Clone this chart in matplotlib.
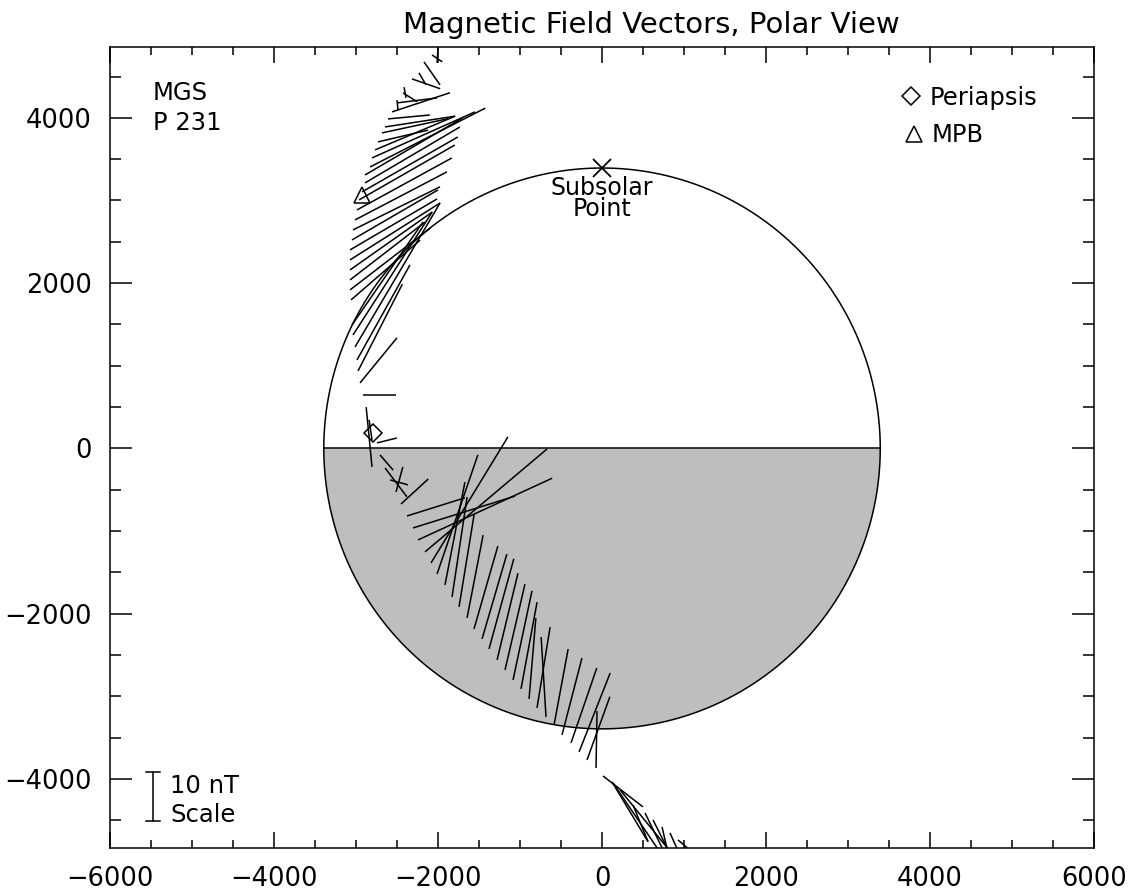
import numpy as np
import matplotlib
matplotlib.use('Agg')
import matplotlib.pyplot as plt
from matplotlib.patches import Wedge
from matplotlib.ticker import MultipleLocator

# ---------------- data ----------------
R_MARS = 3393          # km
KM_PER_NT = 59.3       # vector scale: 10 nT bar length

# spacecraft positions (km) and field components (nT)
vec_x = [-2073, -2012, -2171, -2317, -2232, -2390, -2427, -2488, -2500, -2561,
         -2610, -2646, -2683, -2732, -2768, -2805, -2829,
         -2890, -2890, -2927, -2963, -2988, -3012, -3037, -3049, -3073,
         -3073, -3073, -3073, -3073, -3061,
         -3049, -3037, -3012, -2988, -2975, -2951, -2915,
         -2805, -2744, -2805, -2707, -2646, -2585, -2512, -2451, -2378,
         -2305, -2244, -2159, -2085, -2012, -1915, -1829,
         -1744, -1646, -1561, -1463, -1378, -1280, -1183, -1085, -988,
         -890, -793, -683, -585, -488, -378, -280, -183, -73,
         12, 122, 134, 220, 378, 524, 622, 732, 829, 927]
vec_y = [4761, 4665, 4677, 4471, 4544, 4241, 4302, 4096, 4181, 4072,
         3987, 3890, 3818, 3709, 3612, 3515, 3406,
         3309, 3213, 3104, 3007, 2886, 2765, 2644, 2523, 2402,
         2281, 2160, 2039, 1918, 1797,
         1494, 1373, 1228, 1071, 938, 793, 647,
         103, 67, -224, -79, -236, -381, -526, -672, -817,
         -962, -1107, -1252, -1385, -1519, -1652, -1797,
         -1918, -2051, -2184, -2305, -2426, -2559, -2680, -2801, -2910,
         -3031, -3140, -3249, -3346, -3467, -3563, -3672, -3769, -3866,
         -3963, -4035, -4047, -4132, -4314, -4410, -4495, -4580, -4652, -4737]
vec_bx = [2.1, 0.2, 3.3, 5.8, 1.4, -0.4, 2.9, -0.2, 8.2, 11.9,
          8.6, 14.4, 13.6, 10.3, 16.5, 21.2, 23.7,
          20.0, 19.5, 19.7, 19.7, 19.5, 18.9, 17.9, 17.7, 17.9,
          18.5, 16.9, 15.4, 16.5, 14.2,
          14.6, 16.3, 17.5, 10.9, 9.1, 7.6, 6.8,
          -0.6, 4.1, -1.2, 2.7, 4.5, 3.7, 1.4, 5.6, 11.9,
          21.0, 27.6, 25.1, 15.8, 8.4, 4.1, 3.1,
          3.1, 3.3, 4.9, 5.1, 5.1, 4.3, 4.1, 3.9, 3.3,
          1.4, 2.7, -1.0, 2.9, 4.1, 5.3, 6.4, 4.7, 0.2,
          8.2, 7.4, 9.1, 9.7, 3.1, 3.5, 2.9, 1.0, 1.4, 1.9]
vec_by = [-1.4, 3.1, -4.7, -2.0, -2.4, 2.2, -1.8, 2.0, 1.0, 3.9,
          0.8, 2.2, 2.9, 2.4, 6.9, 9.4, 12.0,
          11.6, 11.4, 11.2, 11.2, 10.6, 9.8, 8.8, 10.2, 10.4,
          11.6, 11.8, 11.8, 12.6, 12.2,
          21.0, 25.1, 29.4, 19.4, 17.7, 9.2, 0.0,
          4.1, 1.0, 12.2, -3.1, -5.9, -1.0, 5.1, 5.1, 3.7,
          6.5, 12.6, 21.0, 25.7, 24.3, 21.0, 20.4,
          18.8, 16.9, 16.9, 17.3, 18.4, 17.7, 17.5, 18.2, 17.7,
          16.5, 16.5, 16.3, 15.5, 15.7, 15.3, 16.1, 12.9, 11.6,
          -6.3, -12.2, -13.3, -11.8, -7.5, -7.1, -5.7, -4.3, -3.1, -1.6]

periapsis = (-2793, 188)
mpb = (-2927, 3067)
subsolar = (0, R_MARS)

xticks = [-6000, -4000, -2000, 0, 2000, 4000, 6000]
yticks = [-4000, -2000, 0, 2000, 4000]
xlim = (-6000, 6000)
ylim = (-4834, 4858)

# ---------------- figure ----------------
plt.rcParams['font.family'] = ['DejaVu Sans']
FS = 17.5

fig = plt.figure(figsize=(11.33, 8.94), dpi=100)
ax = fig.add_axes([0.0971, 0.0515, 0.8685, 0.896])
ax.set_xlim(*xlim)
ax.set_ylim(*ylim)

# planet: night side shaded
ax.add_patch(Wedge((0, 0), R_MARS, 180, 360, facecolor='#bebebe',
                   edgecolor='none', zorder=1))
th = np.linspace(0, 2 * np.pi, 721)
ax.plot(R_MARS * np.cos(th), R_MARS * np.sin(th), color='k', lw=1.1, zorder=2)
ax.plot([-R_MARS, R_MARS], [0, 0], color='k', lw=1.1, zorder=2)

# field vectors
for x, y, bx, by in zip(vec_x, vec_y, vec_bx, vec_by):
    ax.plot([x, x + bx * KM_PER_NT], [y, y + by * KM_PER_NT],
            color='k', lw=1.1, zorder=3, solid_capstyle='butt')

# markers
ax.plot(*periapsis, marker='D', ms=9, mfc='none', mec='k', mew=1.1, zorder=4)
ax.plot(*mpb, marker='^', ms=12, mfc='none', mec='k', mew=1.1, zorder=4)
ax.plot(*subsolar, marker='x', ms=13, mec='k', mew=1.3, zorder=4)
ax.text(0, 3300, 'Subsolar\nPoint', ha='center', va='top', fontsize=17,
        linespacing=0.85, multialignment='center')

# labels in plot
ax.text(-5476, 4218, 'MGS', ha='left', va='baseline', fontsize=FS)
ax.text(-5476, 3854, 'P 231', ha='left', va='baseline', fontsize=FS)

ax.plot(3768, 4265, marker='D', ms=9, mfc='none', mec='k', mew=1.1)
ax.text(4000, 4156, 'Periapsis', ha='left', va='baseline', fontsize=FS)
ax.plot(3805, 3805, marker='^', ms=12, mfc='none', mec='k', mew=1.1)
ax.text(4024, 3709, 'MPB', ha='left', va='baseline', fontsize=FS)

# 10 nT scale bar
sb_x, sb_top = -5476, -3914
sb_bot = sb_top - 10 * KM_PER_NT
ax.plot([sb_x, sb_x], [sb_top, sb_bot], color='k', lw=1.1)
ax.plot([sb_x - 90, sb_x + 90], [sb_top, sb_top], color='k', lw=1.1)
ax.plot([sb_x - 90, sb_x + 90], [sb_bot, sb_bot], color='k', lw=1.1)
ax.text(-5268, -4168, '10 nT', ha='left', va='baseline', fontsize=FS)
ax.text(-5268, -4519, 'Scale', ha='left', va='baseline', fontsize=FS)

# axes styling
ax.set_xticks(xticks)
ax.set_yticks(yticks)
ax.xaxis.set_minor_locator(MultipleLocator(500))
ax.yaxis.set_minor_locator(MultipleLocator(500))
ax.tick_params(which='both', direction='in', top=True, right=True,
               labelsize=18.5, width=1.1)
ax.tick_params(axis='x', which='major', length=11.5, pad=13)
ax.tick_params(axis='x', which='minor', length=5.8)
ax.tick_params(axis='y', which='major', length=15.8, pad=13)
ax.tick_params(axis='y', which='minor', length=7.9)
ax.set_xticklabels([f'{v:d}'.replace('-', '\u2212') for v in xticks])
ax.set_yticklabels([f'{v:d}'.replace('-', '\u2212') for v in yticks])
for s in ax.spines.values():
    s.set_linewidth(1.1)

fig.text(0.5746, 0.963, 'Magnetic Field Vectors, Polar View',
         ha='center', va='baseline', fontsize=21)

fig.savefig('out.png', dpi=100)
